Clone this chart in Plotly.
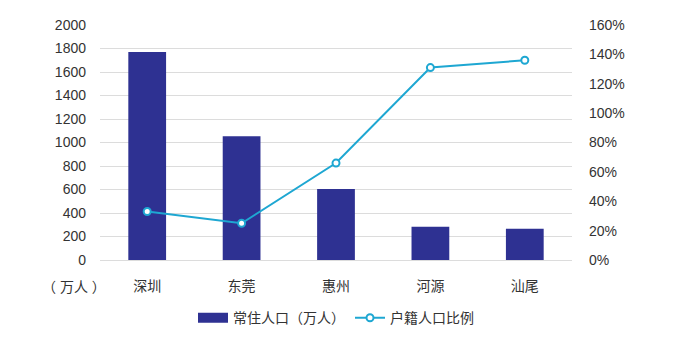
import plotly.graph_objects as go

cities = ["深圳", "东莞", "惠州", "河源", "汕尾"]
resident_pop = [1770, 1053, 604, 283, 267]          # 常住人口（万人）
hukou_ratio = [33, 25, 66, 131, 136]                # 户籍人口比例（%）

left_ticks = list(range(0, 2001, 200))
right_ticks = list(range(0, 161, 20))

font_family = "Liberation Sans, Noto Sans CJK SC, sans-serif"
text_color = "#333333"
bar_color = "#2e3192"
line_color = "#1ea7d2"

fig = go.Figure()
fig.add_trace(go.Bar(
    x=cities, y=resident_pop, name="常住人口（万人）",
    marker=dict(color=bar_color, line=dict(width=0)),
    width=0.4, yaxis="y", showlegend=False, legendgroup="pop",
))
# wide block legend key for the bar series
fig.add_trace(go.Scatter(
    x=[None], y=[None], name="常住人口（万人）", mode="lines",
    line=dict(color=bar_color, width=10), legendgroup="pop",
))
fig.add_trace(go.Scatter(
    x=cities, y=hukou_ratio, name="户籍人口比例",
    mode="lines+markers", yaxis="y2",
    line=dict(color=line_color, width=2),
    marker=dict(symbol="circle", size=7, color="white",
                line=dict(color=line_color, width=2)),
))

fig.update_layout(
    width=673, height=337,
    margin=dict(l=100, r=101, t=25, b=77, autoexpand=False),
    paper_bgcolor="white", plot_bgcolor="white",
    font=dict(family=font_family, size=14, color=text_color),
    showlegend=True,
    legend=dict(orientation="h", x=0.5, xanchor="center",
                yref="container", y=0.056, yanchor="middle",
                font=dict(size=14, color=text_color)),
    xaxis=dict(showgrid=False, showline=False, ticks="",
               ticklabelstandoff=16,
               tickfont=dict(size=14, color=text_color)),
    yaxis=dict(range=[0, 2000], tickvals=left_ticks, showgrid=True,
               gridcolor="#dcdcdc", gridwidth=1.2, zeroline=True,
               zerolinecolor="#dcdcdc", zerolinewidth=1.2,
               ticks="", ticklabelstandoff=13,
               tickfont=dict(size=14, color=text_color)),
    yaxis2=dict(range=[0, 160], tickvals=right_ticks,
                ticktext=[f"{v}%" for v in right_ticks],
                overlaying="y", side="right", showgrid=False, zeroline=False,
                ticks="", ticklabelstandoff=16,
                tickfont=dict(size=14, color=text_color)),
    annotations=[dict(text="（ 万人 ）", xref="paper", yref="paper",
                      x=-0.055, y=-0.115, xanchor="center", yanchor="middle",
                      showarrow=False, font=dict(size=14, color=text_color))],
)

fig.write_html("out.html")
